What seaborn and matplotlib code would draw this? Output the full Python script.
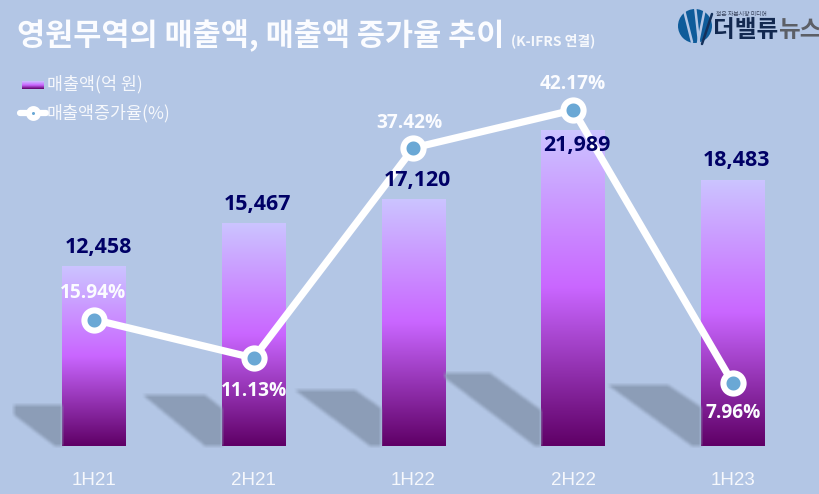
import numpy as np
import pandas as pd
import matplotlib
matplotlib.use('Agg')
import matplotlib.pyplot as plt
import seaborn as sns
from matplotlib.colors import LinearSegmentedColormap, to_rgb
from matplotlib.patches import Circle
from matplotlib.path import Path
from matplotlib.transforms import Affine2D

periods = ['1H21', '2H21', '1H22', '2H22', '1H23']
sales = [12458, 15467, 17120, 21989, 18483]
growth = [15.94, 11.13, 37.42, 42.17, 7.96]

sales_labels = ['12,458', '15,467', '17,120', '21,989', '18,483']
growth_labels = ['15.94%', '11.13%', '37.42%', '42.17%', '7.96%']

BG = '#b3c6e5'
LIGHT = '#f6f8fc'
NAVY = '#000066'
KR = ['Noto Sans CJK KR', 'DejaVu Sans']
W, H = 820, 494

sns.set_theme(style='white')
plt.rcParams['font.family'] = KR

fig = plt.figure(figsize=(8.2, 4.94), dpi=100, facecolor=BG)
ax = fig.add_axes([0, 48 / H, 1, 446 / H])
ax.set_facecolor('none')

# pixel coordinates, y from the top, for the decoration
px = Affine2D().scale(1, -1).translate(0, H)

# soft shadows behind the bars
shadows = [
    [(14, 405), (62, 405), (62, 446), (55, 446), (14, 415)],
    [(143, 395), (205, 395), (222, 408), (222, 446), (205, 446)],
    [(295, 390), (355, 390), (381, 408), (381, 446), (370, 446)],
    [(445, 373), (490, 373), (541, 410), (541, 446), (535, 446), (445, 378)],
    [(608, 385), (668, 385), (701, 407), (701, 446), (692, 446)],
]
xx, yy = np.meshgrid(np.arange(W) + 0.5, np.arange(H) + 0.5)
grid = np.column_stack([xx.ravel(), yy.ravel()])
mask = np.zeros((H, W))
for pts in shadows:
    mask[Path(pts + [pts[0]]).contains_points(grid).reshape(H, W)] = 1
kernel = np.ones(5) / 5
mask = np.apply_along_axis(lambda r: np.convolve(r, kernel, mode='same'), 0, mask)
mask = np.apply_along_axis(lambda r: np.convolve(r, kernel, mode='same'), 1, mask)
shadow_img = np.zeros((H, W, 4))
shadow_img[..., :3] = to_rgb('#8c9db7')
shadow_img[..., 3] = mask
fig.figimage(shadow_img, 0, 0, origin='upper', zorder=0.5)

df = pd.DataFrame({'period': periods, 'sales': sales, 'growth': growth})
sns.barplot(data=df, x='period', y='sales', ax=ax, width=0.4, color='white', zorder=1)

bar_cmap = LinearSegmentedColormap.from_list(
    'bar', [(0, '#ccc4ff'), (0.5, '#c966ff'), (1, '#5f0066')])
grad = np.linspace(0, 1, 256).reshape(-1, 1)

for patch in list(ax.patches):
    x0, w, h = patch.get_x(), patch.get_width(), patch.get_height()
    patch.set_visible(False)
    ax.imshow(grad, cmap=bar_cmap, aspect='auto', extent=(x0, x0 + w, 0, h),
              origin='upper', zorder=1.5)

ax.set_xlim(-94 / 159.75, (W - 94) / 159.75)
ax.set_ylim(0, 446 / 0.01437)
ax.set_xlabel('')
ax.set_ylabel('')
ax.set_yticks([])
sns.despine(ax=ax, left=True, bottom=True)
ax.tick_params(axis='x', length=0, pad=19)
for t in ax.get_xticklabels():
    t.set_color(LIGHT)
    t.set_fontsize(13.5)
    t.set_fontfamily('Liberation Sans')

ax2 = ax.twinx()
ax2.set_facecolor('none')
sns.lineplot(data=df, x='period', y='growth', ax=ax2, sort=False, color='white', lw=5.2,
             marker='o', markersize=14.5, markerfacecolor='#6aa8d5',
             markeredgecolor='white', markeredgewidth=4.4, zorder=3)
ax2.set_ylim(0.116, 55.93)
ax2.set_xlabel('')
ax2.set_ylabel('')
ax2.set_yticks([])
sns.despine(ax=ax2, left=True, right=True, bottom=True)

# value labels, offsets in px from the bar top / point
sales_off = [(4, 19), (4, 19), (4, 19), (4, -15), (4, 20)]
growth_off = [(-1, 27), (0, -33), (-4, 25), (0, 26), (0, -30)]

for i, (v, lab, off) in enumerate(zip(sales, sales_labels, sales_off)):
    ax2.annotate(lab, (i, v), xycoords=ax.transData,
                 xytext=(off[0] * 0.72, off[1] * 0.72), textcoords='offset points',
                 ha='center', va='center', color=NAVY, fontsize=15.4, fontweight='bold',
                 family=['Open Sans', 'DejaVu Sans'], zorder=5)
for i, (v, lab, off) in enumerate(zip(growth, growth_labels, growth_off)):
    ax2.annotate(lab, (i, v), xytext=(off[0] * 0.72, off[1] * 0.72),
                 textcoords='offset points', ha='center', va='center', color='#fbfcff',
                 fontsize=13.8, fontweight='bold', family=['Open Sans', 'DejaVu Sans'], zorder=5)

# title
fig.text(17 / W, 1 - 36 / H, '영원무역의 매출액, 매출액 증가율 추이', color='#fbfcff',
         fontsize=22, fontweight='bold', va='center', ha='left', family=KR)
fig.text(511 / W, 1 - 41 / H, '(K-IFRS 연결)', color=LIGHT, fontsize=10,
         fontweight='bold', va='center', ha='left', family=KR)

# legend
lg = fig.add_axes([22 / W, 1 - 89 / H, 22 / W, 8 / H])
lg.imshow(grad, cmap=bar_cmap, aspect='auto')
lg.axis('off')
fig.text(47 / W, 1 - 84 / H, '매출액(억 원)', color=LIGHT, fontsize=12.5, va='center', family=KR)
fig.text(47 / W, 1 - 113 / H, '매출액증가율(%)', color=LIGHT, fontsize=12.5, va='center', family=KR)
leg_line = plt.Line2D([20 / W, 46 / W], [1 - 113 / H] * 2, transform=fig.transFigure,
                      color='white', lw=4.5, solid_capstyle='round')
leg_dot = plt.Line2D([33 / W], [1 - 113 / H], transform=fig.transFigure, marker='o',
                     markersize=6.5, markerfacecolor='#6aa8d5', markeredgecolor='white',
                     markeredgewidth=4.2, color='white')
fig.add_artist(leg_line)
fig.add_artist(leg_dot)

# logo
ax.add_patch(Circle((695, 26), 17, transform=px, facecolor='#0f5c9a', edgecolor='none',
                    clip_on=False, zorder=6))
for (x1, y1, x2, y2), c in [((684, 10, 692, 42), BG), ((695, 6, 699, 42), BG),
                            ((705, 8, 698, 43), BG), ((712, 14, 702, 44), '#14305a')]:
    ax.plot([x1, x2], [y1, y2], transform=px, color=c, lw=1.8, clip_on=False, zorder=7)
fig.text(713 / W, 1 - 30 / H, '더밸류', color='#12284f', fontsize=17, fontweight='bold',
         va='center', ha='left', family=KR)
fig.text(778 / W, 1 - 30 / H, '뉴스', color='#5c5f66', fontsize=17, fontweight='bold',
         va='center', ha='left', family=KR)
fig.text(716 / W, 1 - 15 / H, '젊은 자본시장 미디어', color='#3a4660', fontsize=4.2,
         va='center', ha='left', family=KR)

fig.savefig('out.png', dpi=100, facecolor=BG)
